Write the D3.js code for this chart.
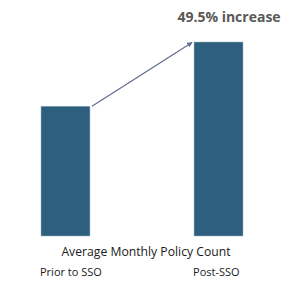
<!DOCTYPE html>
<html>
<head>
<meta charset="utf-8">
<script src="https://cdn.jsdelivr.net/npm/d3@7"></script>
<style>
  html, body { margin: 0; padding: 0; background: #fff; }
  svg { display: block; font-family: "Open Sans", "Noto Sans", sans-serif; }
</style>
</head>
<body>
<svg id="chart" width="300" height="291"></svg>
<script>
// categories and relative values (post-SSO = prior * 1.495)
const categories = ['Prior to SSO', 'Post-SSO'];
const values = [100, 149.5];
const changeLabel = '49.5% increase';
const axisTitle = 'Average Monthly Policy Count';

const svg = d3.select('#chart');

// plot area
const plotTop = 42, plotBottom = 236;

const x = d3.scaleBand()
  .domain(categories)
  .range([41, 243])
  .paddingInner(0.68)
  .paddingOuter(0);

const y = d3.scaleLinear()
  .domain([0, d3.max(values)])
  .range([plotBottom, plotTop]);

const barColor = '#2f5f7e';

svg.selectAll('rect.bar')
  .data(values)
  .join('rect')
  .attr('class', 'bar')
  .attr('x', (d, i) => x(categories[i]))
  .attr('y', d => y(d))
  .attr('width', x.bandwidth())
  .attr('height', d => plotBottom - y(d))
  .attr('fill', barColor)
  .attr('stroke', '#9fb3c4')
  .attr('stroke-width', 0.5);

// arrow from top-right of first bar to top-left of second
svg.append('defs').append('marker')
  .attr('id', 'arrowhead')
  .attr('viewBox', '0 0 10 10')
  .attr('refX', 9).attr('refY', 5)
  .attr('markerWidth', 4.5).attr('markerHeight', 4)
  .attr('orient', 'auto')
  .append('path')
  .attr('d', 'M0,0 L10,5 L0,10 z')
  .attr('fill', '#646f90');

svg.append('line')
  .attr('x1', x(categories[0]) + x.bandwidth() + 2)
  .attr('y1', y(values[0]))
  .attr('x2', x(categories[1]) - 2)
  .attr('y2', y(values[1]) + 0.5)
  .attr('stroke', '#646f90')
  .attr('stroke-width', 1.3)
  .attr('marker-end', 'url(#arrowhead)');

// change label
svg.append('text')
  .attr('x', 229)
  .attr('y', 22)
  .attr('text-anchor', 'middle')
  .attr('font-size', 14)
  .attr('font-weight', 'bold')
  .attr('fill', '#595959')
  .text(changeLabel);

// axis title
svg.append('text')
  .attr('x', 146)
  .attr('y', 256)
  .attr('text-anchor', 'middle')
  .attr('font-size', 12.2)
  .attr('fill', '#1a1a1a')
  .text(axisTitle);

// category labels
svg.selectAll('text.cat')
  .data(categories)
  .join('text')
  .attr('class', 'cat')
  .attr('x', d => x(d) - 1)
  .attr('y', 276)
  .attr('font-size', 11)
  .attr('fill', '#1a1a1a')
  .text(d => d);
</script>
</body>
</html>
